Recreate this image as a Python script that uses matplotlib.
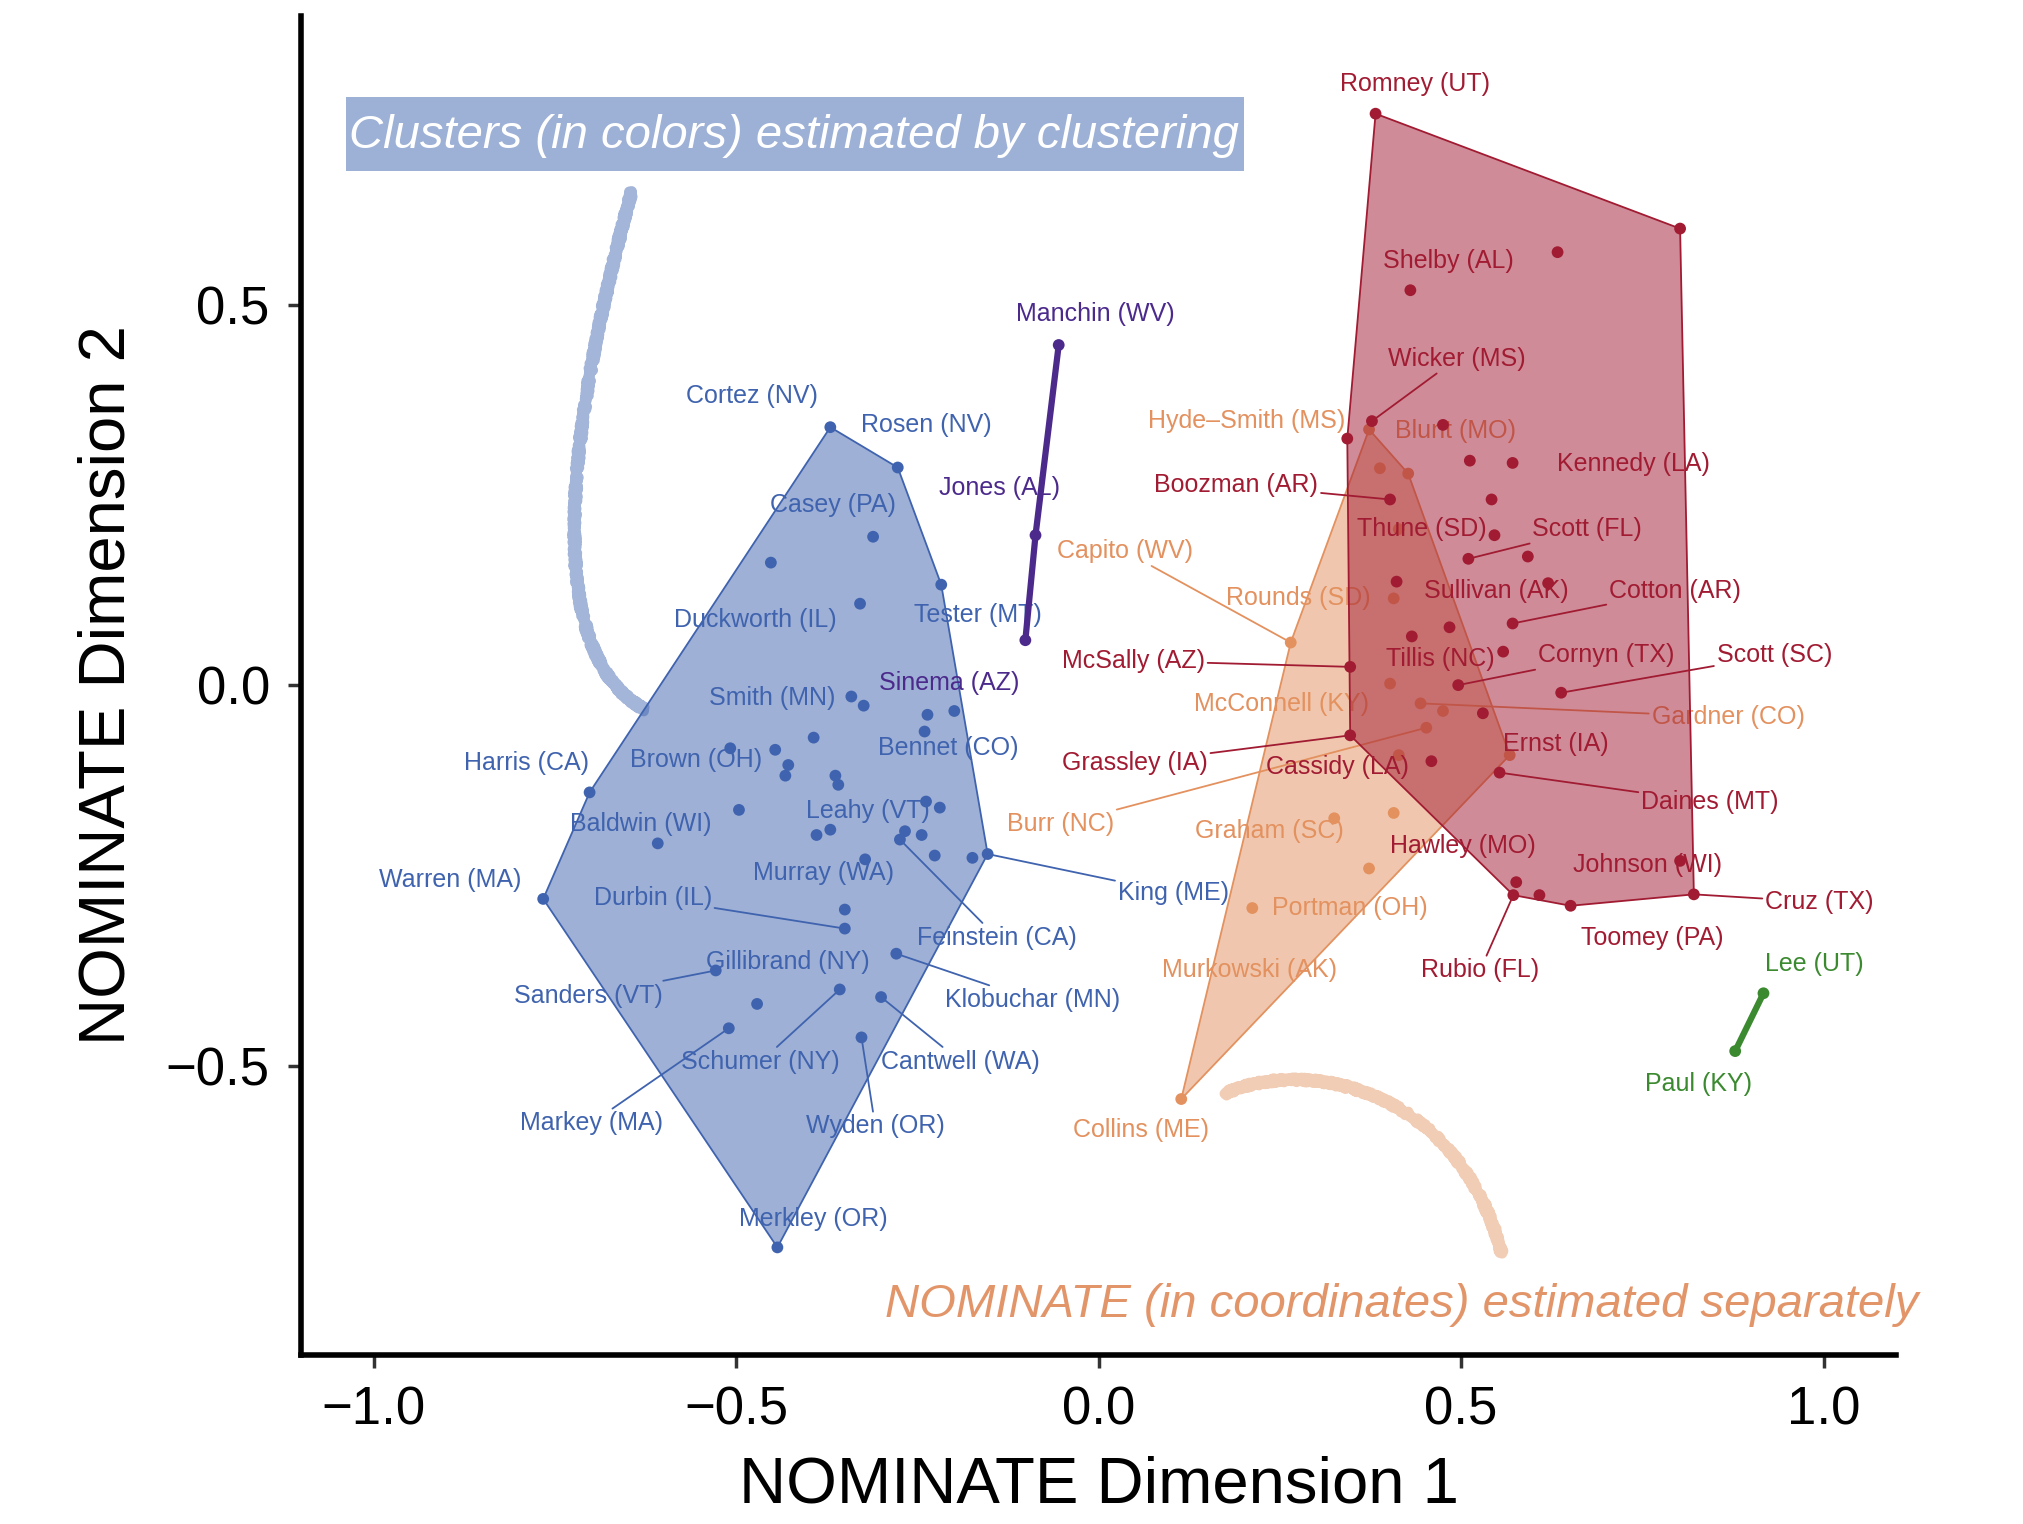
import matplotlib.pyplot as plt
import numpy as np
from matplotlib.path import Path
from matplotlib.patches import PathPatch, Polygon, Rectangle
from matplotlib.colors import to_rgba

plt.rcParams['font.family'] = ['Liberation Sans', 'DejaVu Sans']

# ---- NOMINATE coordinates, one block per cluster ----
dem_names = ["Cortez (NV)", "Rosen (NV)", "Casey (PA)", "", "Tester (MT)", "Duckworth (IL)",
             "Smith (MN)", "", "", "", "Bennet (CO)", "", "Brown (OH)", "", "", "", "", "",
             "Harris (CA)", "", "Leahy (VT)", "", "", "", "", "Feinstein (CA)", "",
             "Baldwin (WI)", "", "", "King (ME)", "Murray (WA)", "Warren (MA)", "",
             "Durbin (IL)", "Klobuchar (MN)", "Sanders (VT)", "Gillibrand (NY)",
             "Schumer (NY)", "Cantwell (WA)", "Markey (MA)", "Wyden (OR)", "Merkley (OR)"]
dem_x = [-0.370, -0.277, -0.311, -0.452, -0.217, -0.329, -0.341, -0.324, -0.236, -0.199,
         -0.240, -0.393, -0.508, -0.446, -0.428, -0.432, -0.363, -0.359, -0.702, -0.496,
         -0.238, -0.219, -0.389, -0.370, -0.267, -0.274, -0.244, -0.608, -0.226, -0.174,
         -0.153, -0.322, -0.766, -0.350, -0.350, -0.279, -0.528, -0.471, -0.357, -0.300,
         -0.510, -0.327, -0.443]
dem_y = [0.339, 0.286, 0.195, 0.161, 0.132, 0.107, -0.015, -0.027, -0.039, -0.034,
         -0.061, -0.069, -0.083, -0.085, -0.105, -0.119, -0.119, -0.131, -0.141, -0.164,
         -0.153, -0.161, -0.197, -0.190, -0.192, -0.203, -0.197, -0.208, -0.224, -0.227,
         -0.222, -0.229, -0.281, -0.295, -0.320, -0.353, -0.375, -0.419, -0.400, -0.410,
         -0.451, -0.463, -0.739]

mod_names = ["Manchin (WV)", "Jones (AL)", "Sinema (AZ)"]
mod_x = [-0.055, -0.087, -0.101]
mod_y = [0.447, 0.197, 0.059]

cen_names = ["Hyde–Smith (MS)", "Blunt (MO)", "", "", "Rounds (SD)", "Capito (WV)",
             "McConnell (KY)", "Gardner (CO)", "", "Burr (NC)", "", "", "", "Graham (SC)",
             "Murkowski (AK)", "Portman (OH)", "Collins (ME)"]
cen_x = [0.373, 0.388, 0.427, 0.414, 0.407, 0.265, 0.402, 0.444, 0.475, 0.452, 0.567,
         0.414, 0.407, 0.325, 0.373, 0.212, 0.114]
cen_y = [0.336, 0.285, 0.278, 0.205, 0.114, 0.056, 0.002, -0.024, -0.034, -0.056, -0.092,
         -0.092, -0.168, -0.175, -0.241, -0.293, -0.544]

rep_names = ["Romney (UT)", "", "", "Shelby (AL)", "Wicker (MS)", "", "", "", "Kennedy (LA)",
             "Boozman (AR)", "", "Thune (SD)", "Scott (FL)", "", "Sullivan (AK)", "",
             "Cotton (AR)", "Tillis (NC)", "", "", "McSally (AZ)", "Cornyn (TX)", "Scott (SC)",
             "Ernst (IA)", "Grassley (IA)", "Cassidy (LA)", "Daines (MT)", "Johnson (WI)",
             "Hawley (MO)", "Rubio (FL)", "", "Toomey (PA)", "Cruz (TX)"]
rep_x = [0.382, 0.802, 0.633, 0.430, 0.377, 0.343, 0.475, 0.512, 0.571, 0.402, 0.542,
         0.546, 0.510, 0.592, 0.411, 0.620, 0.571, 0.484, 0.432, 0.558, 0.347, 0.496,
         0.638, 0.530, 0.347, 0.459, 0.553, 0.802, 0.576, 0.572, 0.608, 0.651, 0.821]
rep_y = [0.751, 0.600, 0.569, 0.519, 0.347, 0.324, 0.342, 0.295, 0.292, 0.244, 0.244,
         0.197, 0.166, 0.169, 0.136, 0.134, 0.081, 0.076, 0.064, 0.044, 0.024, 0.000,
         -0.010, -0.037, -0.066, -0.100, -0.115, -0.231, -0.259, -0.276, -0.276, -0.290,
         -0.275]

lib_names = ["Lee (UT)", "Paul (KY)"]
lib_x = [0.917, 0.878]
lib_y = [-0.405, -0.481]

x_ticks = [-1.0, -0.5, 0.0, 0.5, 1.0]
x_tick_labels = ["−1.0", "−0.5", "0.0", "0.5", "1.0"]
y_ticks = [-0.5, 0.0, 0.5]
y_tick_labels = ["−0.5", "0.0", "0.5"]

# where each name label sits (repelled by hand)
label_at = {
    "Cortez (NV)": (-0.478, 0.380), "Rosen (NV)": (-0.238, 0.342), "Casey (PA)": (-0.366, 0.237),
    "Duckworth (IL)": (-0.473, 0.085), "Tester (MT)": (-0.167, 0.092), "Smith (MN)": (-0.450, -0.017),
    "Harris (CA)": (-0.789, -0.102), "Brown (OH)": (-0.555, -0.098), "Bennet (CO)": (-0.208, -0.083),
    "Baldwin (WI)": (-0.631, -0.183), "Leahy (VT)": (-0.318, -0.166), "Warren (MA)": (-0.894, -0.256),
    "Murray (WA)": (-0.379, -0.247), "Durbin (IL)": (-0.615, -0.280), "King (ME)": (0.103, -0.273),
    "Feinstein (CA)": (-0.140, -0.332), "Gillibrand (NY)": (-0.428, -0.364),
    "Sanders (VT)": (-0.704, -0.408), "Klobuchar (MN)": (-0.091, -0.414),
    "Cantwell (WA)": (-0.190, -0.495), "Schumer (NY)": (-0.466, -0.495),
    "Markey (MA)": (-0.700, -0.576), "Wyden (OR)": (-0.308, -0.580), "Merkley (OR)": (-0.393, -0.702),
    "Manchin (WV)": (-0.005, 0.488), "Jones (AL)": (-0.137, 0.259), "Sinema (AZ)": (-0.206, 0.003),
    "Hyde–Smith (MS)": (0.204, 0.347), "Blunt (MO)": (0.492, 0.334), "Capito (WV)": (0.036, 0.176),
    "Rounds (SD)": (0.276, 0.115), "McConnell (KY)": (0.252, -0.025), "Gardner (CO)": (0.868, -0.042),
    "Burr (NC)": (-0.052, -0.183), "Graham (SC)": (0.236, -0.192), "Portman (OH)": (0.347, -0.293),
    "Murkowski (AK)": (0.208, -0.375), "Collins (ME)": (0.059, -0.585),
    "Romney (UT)": (0.436, 0.790), "Shelby (AL)": (0.482, 0.558), "Wicker (MS)": (0.494, 0.429),
    "Boozman (AR)": (0.190, 0.263), "Kennedy (LA)": (0.738, 0.290), "Thune (SD)": (0.446, 0.205),
    "Scott (FL)": (0.674, 0.205), "Sullivan (AK)": (0.548, 0.124), "Cotton (AR)": (0.795, 0.124),
    "McSally (AZ)": (0.048, 0.032), "Tillis (NC)": (0.471, 0.034), "Cornyn (TX)": (0.700, 0.039),
    "Scott (SC)": (0.932, 0.039), "Grassley (IA)": (0.050, -0.102), "Cassidy (LA)": (0.329, -0.107),
    "Ernst (IA)": (0.631, -0.078), "Daines (MT)": (0.843, -0.154), "Hawley (MO)": (0.503, -0.212),
    "Johnson (WI)": (0.757, -0.236), "Cruz (TX)": (0.994, -0.285), "Toomey (PA)": (0.764, -0.332),
    "Rubio (FL)": (0.526, -0.375), "Lee (UT)": (0.987, -0.366), "Paul (KY)": (0.827, -0.524),
}
with_segment = {"Durbin (IL)", "King (ME)", "Feinstein (CA)", "Sanders (VT)", "Klobuchar (MN)",
                "Cantwell (WA)", "Schumer (NY)", "Markey (MA)", "Wyden (OR)", "Capito (WV)",
                "Gardner (CO)", "Burr (NC)", "Wicker (MS)", "Boozman (AR)", "Scott (FL)",
                "Cotton (AR)", "McSally (AZ)", "Cornyn (TX)", "Scott (SC)", "Grassley (IA)",
                "Daines (MT)", "Cruz (TX)", "Rubio (FL)"}

clusters = [
    (dem_names, dem_x, dem_y, "#3F63AE"),
    (mod_names, mod_x, mod_y, "#4B2A8C"),
    (cen_names, cen_x, cen_y, "#E3915F"),
    (rep_names, rep_x, rep_y, "#A11B32"),
    (lib_names, lib_x, lib_y, "#3B8A30"),
]


def convex_hull(xs, ys):
    pts = sorted(set(zip(xs, ys)))
    if len(pts) < 3:
        return pts

    def cross(o, a, b):
        return (a[0] - o[0]) * (b[1] - o[1]) - (a[1] - o[1]) * (b[0] - o[0])

    lower, upper = [], []
    for p in pts:
        while len(lower) >= 2 and cross(lower[-2], lower[-1], p) <= 0:
            lower.pop()
        lower.append(p)
    for p in reversed(pts):
        while len(upper) >= 2 and cross(upper[-2], upper[-1], p) <= 0:
            upper.pop()
        upper.append(p)
    return lower[:-1] + upper[:-1]


fig = plt.figure(figsize=(20.23, 15.24), dpi=100)
ax = fig.add_axes([0.1488, 0.1111, 0.7885, 0.8787])

for k, (names, xs, ys, col) in enumerate(clusters):
    z = 2 + k * 4
    hull = convex_hull(xs, ys)
    if len(xs) <= 3:
        # two or three nearly collinear senators: a thick stroke through the points
        ax.plot(xs, ys, color=col, lw=4.5, solid_capstyle='round', zorder=z)
    else:
        ax.add_patch(Polygon(hull, closed=True, facecolor=to_rgba(col, 0.5),
                             edgecolor=col, lw=1.3, zorder=z))

    for name, x, y in zip(names, xs, ys):
        if not name:
            continue
        tx, ty = label_at[name]
        props = None
        if name in with_segment:
            props = dict(arrowstyle='-', color=col, lw=1.3, shrinkA=0, shrinkB=4)
        ax.annotate(name, xy=(x, y), xytext=(tx, ty), ha='center', va='center',
                    fontsize=18, color=col, arrowprops=props, zorder=z + 1)
    ax.scatter(xs, ys, s=72, color=col, edgecolors='none', zorder=z + 2)

# hand-drawn pointer strokes
strokes = [
    ([(-0.644, 0.649), (-0.732, 0.341), (-0.772, 0.044), (-0.626, -0.032)], "#A3B5D9"),
    ([(0.174, -0.537), (0.281, -0.490), (0.494, -0.524), (0.556, -0.747)], "#F2CDB6"),
]
for verts, col in strokes:
    path = Path(verts, [Path.MOVETO, Path.CURVE4, Path.CURVE4, Path.CURVE4])
    patch = PathPatch(path, facecolor='none', edgecolor=col, lw=7.5, capstyle='round',
                      joinstyle='round', zorder=1)
    patch.set_sketch_params(scale=2.2, length=2.5, randomness=1.5)
    ax.add_patch(patch)

# caption box at the top left
ax.add_patch(Rectangle((-1.038, 0.676), 1.239, 0.097, facecolor='#9DB0D5', edgecolor='none',
                       zorder=29))
ax.text(-0.420, 0.722, "Clusters (in colors) estimated by clustering", ha='center', va='center',
        fontsize=34, style='italic', color='white', zorder=30)
ax.text(1.131, -0.815, "NOMINATE (in coordinates) estimated separately", ha='right', va='center',
        fontsize=34, style='italic', color='#E3956A', zorder=30, clip_on=False)

ax.set_xlim(-1.1, 1.1)
ax.set_ylim(-0.88, 0.88)
ax.set_xticks(x_ticks)
ax.set_xticklabels(x_tick_labels)
ax.set_yticks(y_ticks)
ax.set_yticklabels(y_tick_labels)
ax.tick_params(labelsize=38, length=9.5, width=2.5, color='#333333', pad=13)
for side in ('top', 'right'):
    ax.spines[side].set_visible(False)
for side in ('left', 'bottom'):
    ax.spines[side].set_linewidth(4)
ax.set_xlabel("NOMINATE Dimension 1", fontsize=47, labelpad=14)
ax.set_ylabel("NOMINATE Dimension 2", fontsize=47, labelpad=20)

fig.savefig("out.png", dpi=100)
